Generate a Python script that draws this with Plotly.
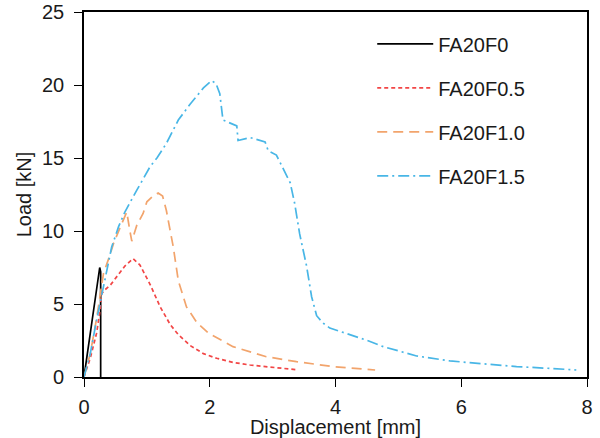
import plotly.graph_objects as go

# ---- data ----
names = ["FA20F0", "FA20F0.5", "FA20F1.0", "FA20F1.5"]

x_f0 = [0, 0.25, 0.265, 0.265]
y_f0 = [0, 7.5, 7.2, 0]

x_f05 = [0, 0.1, 0.2, 0.25, 0.28, 0.33, 0.42, 0.52, 0.65, 0.78, 0.89, 1.05, 1.21, 1.37,
         1.5, 1.69, 1.9, 2.11, 2.37, 2.64, 3.0, 3.38]
y_f05 = [0, 1.3, 3.0, 4.4, 5.7, 5.96, 6.3, 6.87, 7.6, 8.1, 7.67, 6.35, 4.82, 3.6,
         2.9, 2.15, 1.6, 1.28, 1.0, 0.82, 0.65, 0.5]

x_f10 = [0, 0.1, 0.2, 0.31, 0.4, 0.47, 0.58, 0.68, 0.73, 0.76, 0.84, 0.94, 1.0, 1.1, 1.18,
         1.25, 1.31, 1.42, 1.5, 1.63, 1.8, 1.98, 2.37, 2.9, 3.38, 3.96, 4.63]
y_f10 = [0, 1.6, 4.0, 7.1, 8.2, 9.15, 10.3, 11.3, 10.0, 9.3, 10.4, 11.2, 12.0, 12.4, 12.6,
         12.4, 11.4, 8.9, 6.6, 4.8, 3.7, 3.0, 2.08, 1.39, 1.05, 0.71, 0.48]

x_f15 = [0, 0.1, 0.2, 0.33, 0.44, 0.55, 0.65, 0.84, 1.05, 1.16, 1.31, 1.5, 1.69, 1.9, 2.03,
         2.1, 2.16, 2.21, 2.32, 2.43, 2.45, 2.64, 2.88, 2.93, 3.06, 3.12, 3.28, 3.35, 3.43,
         3.54, 3.62, 3.7, 3.8, 3.91, 4.18, 4.49, 4.76, 5.29, 5.82, 6.35, 6.88, 7.41, 7.83]
y_f15 = [0, 1.6, 3.9, 6.6, 8.9, 10.3, 11.3, 12.8, 14.4, 15.0, 16.0, 17.6, 18.7, 19.8, 20.3,
         20.1, 19.4, 17.6, 17.4, 17.2, 16.2, 16.4, 16.1, 15.5, 15.2, 14.7, 13.3, 11.9, 9.8,
         7.6, 5.5, 4.2, 3.7, 3.35, 2.98, 2.53, 2.08, 1.44, 1.1, 0.89, 0.71, 0.59, 0.48]

x_ticks = [0, 2, 4, 6, 8]
y_ticks = [0, 5, 10, 15, 20, 25]

series = [
    (x_f0, y_f0, "#000000", "solid"),
    (x_f05, y_f05, "#F24646", "4px,3px"),
    (x_f10, y_f10, "#F2A46C", "10px,6px"),
    (x_f15, y_f15, "#48B6E6", "11px,4px,2px,4px"),
]

fig = go.Figure()
for name, (xs, ys, col, dash) in zip(names, series):
    fig.add_trace(go.Scatter(
        x=xs, y=ys, mode="lines", name=name, legendgroup=name,
        line=dict(color=col, width=1.7, dash=dash),
    ))

font_family = "Liberation Sans, Arial, sans-serif"
fig.update_layout(
    width=600, height=438,
    margin=dict(l=84, r=13, t=12, b=61),
    paper_bgcolor="white", plot_bgcolor="white",
    font=dict(family=font_family, size=20, color="#1a1a1a"),
    showlegend=True,
    legend=dict(
        x=0.573, y=0.966, xanchor="left", yanchor="top",
        bgcolor="rgba(0,0,0,0)", tracegroupgap=15,
        font=dict(size=20, color="#1a1a1a"), itemwidth=56,
    ),
    xaxis=dict(
        range=[0, 8], tickvals=x_ticks, ticks="outside", ticklen=8, tickwidth=1.3,
        tickcolor="#000", showline=True, linecolor="#000", linewidth=1.6, mirror=True,
        showgrid=False, zeroline=False, ticklabelstandoff=3, automargin=False,
        title=dict(text="Displacement [mm]", standoff=0, font=dict(size=20)),
        tickfont=dict(size=20),
    ),
    yaxis=dict(
        range=[0, 25], tickvals=y_ticks, ticks="outside", ticklen=8, tickwidth=1.3,
        tickcolor="#000", showline=True, linecolor="#000", linewidth=1.6, mirror=True,
        showgrid=False, zeroline=False, ticklabelstandoff=6, automargin=False,
        title=dict(text="Load [kN]", standoff=5, font=dict(size=20)),
        tickfont=dict(size=20),
    ),
)

fig.write_html("out.html")
